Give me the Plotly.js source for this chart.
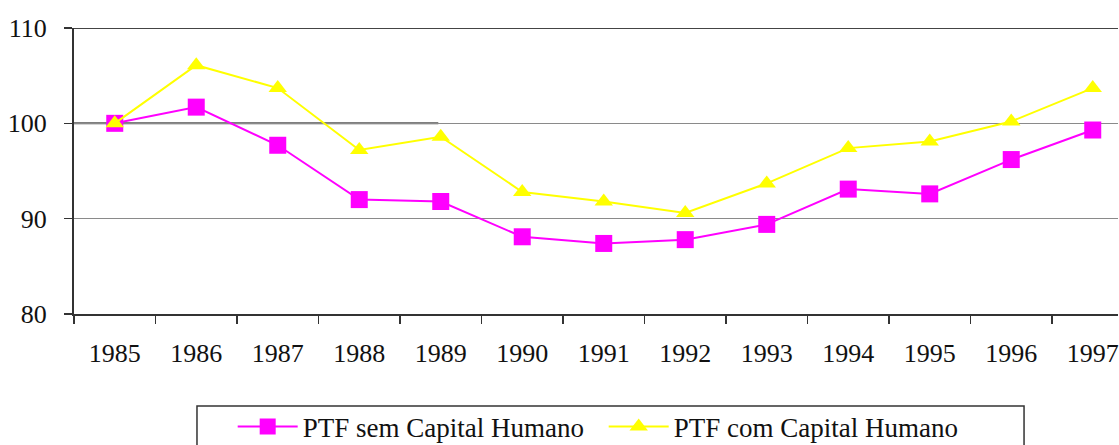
<!DOCTYPE html>
<html>
<head>
<meta charset="utf-8">
<script src="https://cdn.plot.ly/plotly-3.0.1.min.js"></script>
<style>html,body{margin:0;padding:0;background:#fff;}#chart{width:1119px;height:445px;}
#chart svg text{font-family:'Liberation Serif','Times New Roman',serif !important;}</style>
</head>
<body>
<div id="chart"></div>
<script>
var years = ["1985","1986","1987","1988","1989","1990","1991","1992","1993","1994","1995","1996","1997"];
var ptfSemCapital = [100.0, 101.7, 97.7, 92.0, 91.8, 88.1, 87.4, 87.8, 89.4, 93.1, 92.6, 96.2, 99.3];
var ptfComCapital = [100.0, 106.1, 103.7, 97.2, 98.6, 92.8, 91.8, 90.6, 93.7, 97.4, 98.1, 100.2, 103.7];
var seriesNames = ["PTF sem Capital Humano", "PTF com Capital Humano"];

var fontFam = "Liberation Serif";

var traces = [
  {
    x: years, y: ptfSemCapital, name: seriesNames[0], type: "scatter", mode: "lines+markers",
    line: {color: "#FF00FF", width: 2},
    marker: {symbol: "square", size: 17, color: "#FF00FF"}
  },
  {
    x: years, y: ptfComCapital, name: seriesNames[1], type: "scatter", mode: "lines+markers",
    line: {color: "#FFFF00", width: 2},
    marker: {symbol: "triangle-up", size: 16, color: "#FFFF00"}
  }
];

var layout = {
  width: 1119, height: 445,
  margin: {l: 74, r: 1, t: 28, b: 131, autoexpand: false},
  paper_bgcolor: "#fff", plot_bgcolor: "#fff",
  font: {family: fontFam, size: 26, color: "#111"},
  showlegend: true,
  xaxis: {
    type: "category",
    range: [-0.5, 12.31],
    tickson: "boundaries",
    ticks: "outside", ticklen: 8, tickwidth: 1.5, tickcolor: "#333",
    showline: true, linecolor: "#333", linewidth: 2,
    showgrid: false, zeroline: false,
    ticklabelstandoff: 15,
    tickfont: {family: fontFam, size: 26, color: "#111"}
  },
  yaxis: {
    range: [80, 110],
    tickvals: [80, 90, 100, 110],
    ticks: "outside", ticklen: 8, tickwidth: 1.5, tickcolor: "#333",
    showline: true, linecolor: "#333", linewidth: 2,
    showgrid: true, gridcolor: "#8a8a8a", gridwidth: 1.5,
    zeroline: false,
    ticklabelstandoff: 12,
    tickfont: {family: fontFam, size: 26, color: "#111"}
  },
  legend: {
    orientation: "h",
    x: 0.152, xanchor: "left",
    y: -0.395, yanchor: "middle",
    bgcolor: "rgba(0,0,0,0)", borderwidth: 0,
    font: {family: fontFam, size: 27, color: "#111"},
    itemwidth: 60,
    entrywidth: 296, entrywidthmode: "pixels"
  },
  shapes: [
    {type: "line", xref: "paper", yref: "y", x0: 0, x1: 1, y0: 110, y1: 110,
     line: {color: "#444", width: 2}},
    {type: "line", xref: "x", yref: "y", x0: -0.5, x1: 3.97, y0: 100, y1: 100, layer: "below",
     line: {color: "#555", width: 2}},
    {type: "rect", xref: "paper", yref: "paper", x0: 0.1178, x1: 0.91, y0: -0.3217, y1: -0.49,
     line: {color: "#333", width: 1.5}, fillcolor: "rgba(0,0,0,0)"}
  ]
};

Plotly.newPlot("chart", traces, layout, {displayModeBar: false, staticPlot: true});
</script>
</body>
</html>
